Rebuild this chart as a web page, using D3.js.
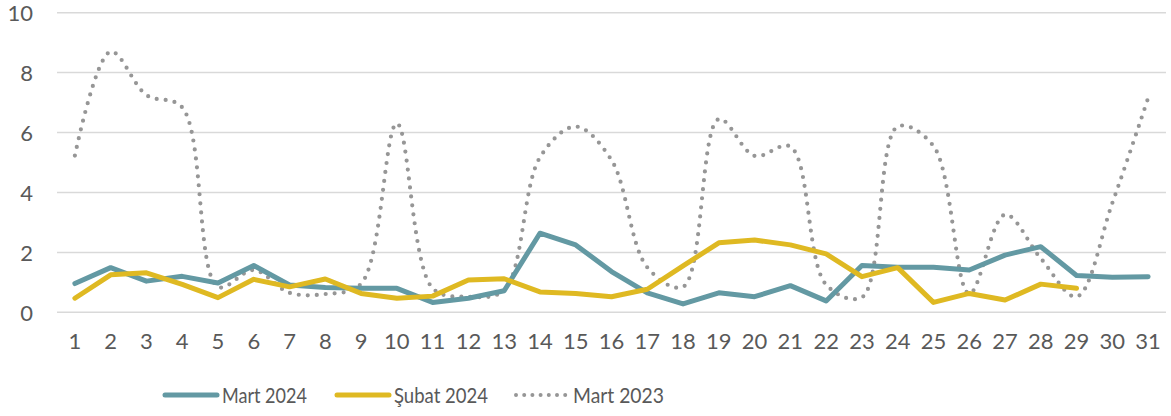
<!DOCTYPE html>
<html>
<head>
<meta charset="utf-8">
<script src="https://cdn.jsdelivr.net/npm/d3@7"></script>
<style>
  body { margin: 0; background: #fff; }
  text { font-family: "Century Gothic", Lato, "DejaVu Sans", sans-serif; fill: #595959; }
</style>
</head>
<body>
<script>
// data
const days = d3.range(1, 32).map(String);
const mart2024 = [0.96, 1.49, 1.04, 1.2, 0.98, 1.56, 0.91, 0.83, 0.8, 0.8, 0.33, 0.47, 0.72, 2.64, 2.25, 1.36, 0.65, 0.28, 0.65, 0.52, 0.89, 0.38, 1.56, 1.5, 1.5, 1.41, 1.91, 2.19, 1.23, 1.17, 1.19];
const subat2024 = [0.47, 1.25, 1.32, 0.93, 0.49, 1.1, 0.85, 1.11, 0.63, 0.47, 0.54, 1.08, 1.12, 0.68, 0.63, 0.52, 0.77, 1.55, 2.32, 2.41, 2.25, 1.95, 1.19, 1.49, 0.33, 0.63, 0.41, 0.94, 0.8];
const mart2023 = [5.23, 8.7, 7.25, 6.84, 0.85, 1.41, 0.65, 0.61, 0.95, 6.3, 0.8, 0.52, 0.74, 5.17, 6.2, 5.08, 1.5, 0.85, 6.45, 5.22, 5.53, 0.92, 0.5, 6.2, 5.55, 0.62, 3.26, 1.8, 0.52, 3.65, 7.15];
const yTicks = [0, 2, 4, 6, 8, 10];

const width = 1171, height = 416;
const margin = { top: 13, right: 5, bottom: 104, left: 57 };

let svg = d3.select('body')
  .append('svg')
    .attr('width', width)
    .attr('height', height);

let xScale = d3.scaleBand()
  .domain(days)
  .range([margin.left, width - margin.right]);

let yScale = d3.scaleLinear()
  .domain([0, 10])
  .range([312.3, margin.top - 0.3]);

// gridlines
svg.append('g')
  .selectAll('line')
  .data(yTicks)
  .enter()
  .append('line')
    .attr('x1', margin.left)
    .attr('x2', width - margin.right)
    .attr('y1', d => yScale(d))
    .attr('y2', d => yScale(d))
    .attr('stroke', '#d9d9d9')
    .attr('stroke-width', 1.5);

// y axis labels
let yAxis = svg.append('g')
  .attr('transform', `translate(33,0)`)
  .call(d3.axisLeft(yScale).tickValues(yTicks).tickSize(0).tickPadding(0));
yAxis.select('.domain').remove();
yAxis.selectAll('text')
  .style('font-size', '22px')
  .attr('dy', '0.35em');

// x axis labels
let xAxis = svg.append('g')
  .attr('transform', `translate(0,${yScale(0)})`)
  .call(d3.axisBottom(xScale).tickSize(0).tickPadding(21));
xAxis.select('.domain').remove();
xAxis.selectAll('text')
  .style('font-size', '22px');

let xc = (d, i) => xScale(days[i]) + xScale.bandwidth() / 2;

let line = d3.line()
  .x(xc)
  .y(d => yScale(d));

svg.append('path')
  .datum(mart2023)
  .attr('fill', 'none')
  .attr('stroke', '#969696')
  .attr('stroke-width', 4.2)
  .attr('stroke-linecap', 'round')
  .attr('stroke-dasharray', '0,9')
  .attr('d', line.curve(d3.curveCatmullRom.alpha(0.5)));

svg.append('path')
  .datum(mart2024)
  .attr('fill', 'none')
  .attr('stroke', '#6399a3')
  .attr('stroke-width', 5)
  .attr('stroke-linejoin', 'round')
  .attr('stroke-linecap', 'round')
  .attr('d', line.curve(d3.curveLinear));

svg.append('path')
  .datum(subat2024)
  .attr('fill', 'none')
  .attr('stroke', '#dfb922')
  .attr('stroke-width', 5)
  .attr('stroke-linejoin', 'round')
  .attr('stroke-linecap', 'round')
  .attr('d', line.curve(d3.curveLinear));

// legend
const legendItems = [
  { name: 'Mart 2024', color: '#6399a3', x: 165, w: 85, dash: null },
  { name: 'Şubat 2024', color: '#dfb922', x: 337, w: 94, dash: null },
  { name: 'Mart 2023', color: '#969696', x: 516, w: 91, dash: '0,8.2' }
];
let legend = svg.append('g').attr('transform', 'translate(0,395)');
legendItems.forEach(it => {
  legend.append('line')
    .attr('x1', it.x).attr('x2', it.x + 52)
    .attr('y1', 0).attr('y2', 0)
    .attr('stroke', it.color)
    .attr('stroke-width', it.dash ? 4 : 5)
    .attr('stroke-linecap', 'round')
    .attr('stroke-dasharray', it.dash);
  legend.append('text')
    .attr('x', it.x + 57)
    .attr('y', 0)
    .attr('dy', '0.35em')
    .attr('textLength', it.w)
    .attr('lengthAdjust', 'spacingAndGlyphs')
    .style('font-size', '22px')
    .text(it.name);
});
</script>
</body>
</html>
